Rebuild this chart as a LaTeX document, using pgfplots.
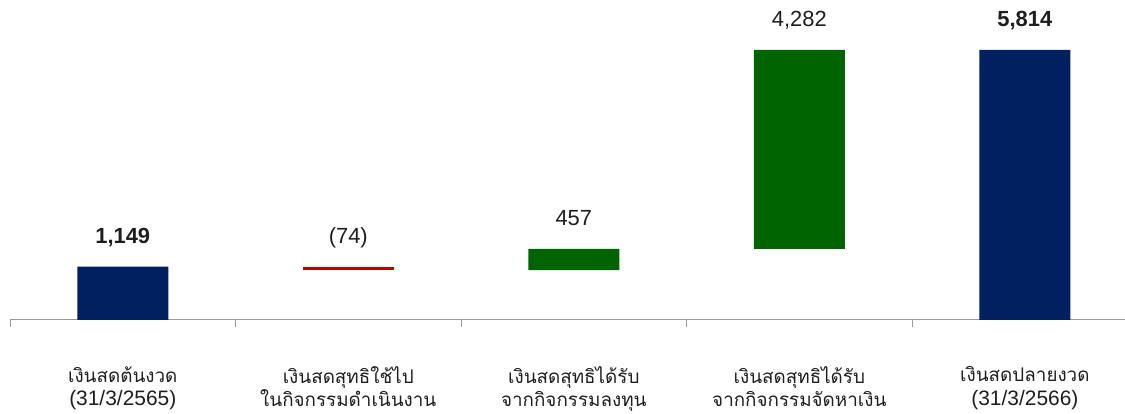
\documentclass[border=0pt]{standalone}
\usepackage{pgfplots}
\pgfplotsset{compat=1.18}
\usepackage{fontspec}
\setmainfont{Liberation Sans}
\newfontfamily\thaifont[Script=Thai, Scale=0.9]{Loma}
\definecolor{navy}{RGB}{0,32,96}
\definecolor{dkgreen}{RGB}{0,100,0}
\definecolor{dkred}{RGB}{192,0,0}
\definecolor{txt}{RGB}{30,30,30}
\tikzset{vl/.style={anchor=base, yshift=23bp, text=txt, font=\fontsize{22}{24}\selectfont}}
\begin{document}
\begin{tikzpicture}
\begin{axis}[
  name=ax,
  width=1115bp, height=320bp,
  scale only axis,
  ybar stacked,
  bar width=91bp,
  xmin=-0.5, xmax=4.444,
  ymin=0, ymax=6890,
  hide y axis,
  axis x line=bottom,
  axis line style={-, draw=gray!80, line width=1pt},
  xtick={0,1,2,3,4},
  major tick length=0pt,
  minor xtick={-0.5,0.5,1.5,2.5,3.5},
  minor tick length=7bp,
  tick style={draw=gray!80, line width=1pt},
  tick align=outside,
  xticklabels={
    {\thaifont เงินสดต้นงวด\\(31/3/2565)},
    {\thaifont เงินสดสุทธิใช้ไป\\\thaifont ในกิจกรรมดำเนินงาน},
    {\thaifont เงินสดสุทธิได้รับ\\\thaifont จากกิจกรรมลงทุน},
    {\thaifont เงินสดสุทธิได้รับ\\\thaifont จากกิจกรรมจัดหาเงิน},
    {\thaifont เงินสดปลายงวด\\(31/3/2566)}},
  xticklabel style={align=center, font=\fontsize{21}{23.5}\selectfont, text=txt, yshift=-43bp},
  clip=false,
]
% invisible base
\addplot [draw=none, fill=white, fill opacity=0] coordinates {(0,0) (1,1075) (2,1075) (3,1532) (4,0)};
% opening / closing balance
\addplot [draw=none, fill=navy] coordinates {(0,1149) (1,0) (2,0) (3,0) (4,5814)};
% outflow
\addplot [draw=none, fill=dkred] coordinates {(0,0) (1,74) (2,0) (3,0) (4,0)};
% inflows
\addplot [draw=none, fill=dkgreen] coordinates {(0,0) (1,0) (2,457) (3,4282) (4,0)};

\node[vl] at (axis cs:0,1149) {\bfseries 1,149};
\node[vl] at (axis cs:1,1149) {(74)};
\node[vl] at (axis cs:2,1532) {457};
\node[vl] at (axis cs:3,5814) {4,282};
\node[vl] at (axis cs:4,5814) {\bfseries 5,814};
\end{axis}
\pgfresetboundingbox
\path[use as bounding box] ([xshift=-10bp,yshift=-94bp]ax.south west) rectangle (ax.north east);
\end{tikzpicture}
\end{document}
